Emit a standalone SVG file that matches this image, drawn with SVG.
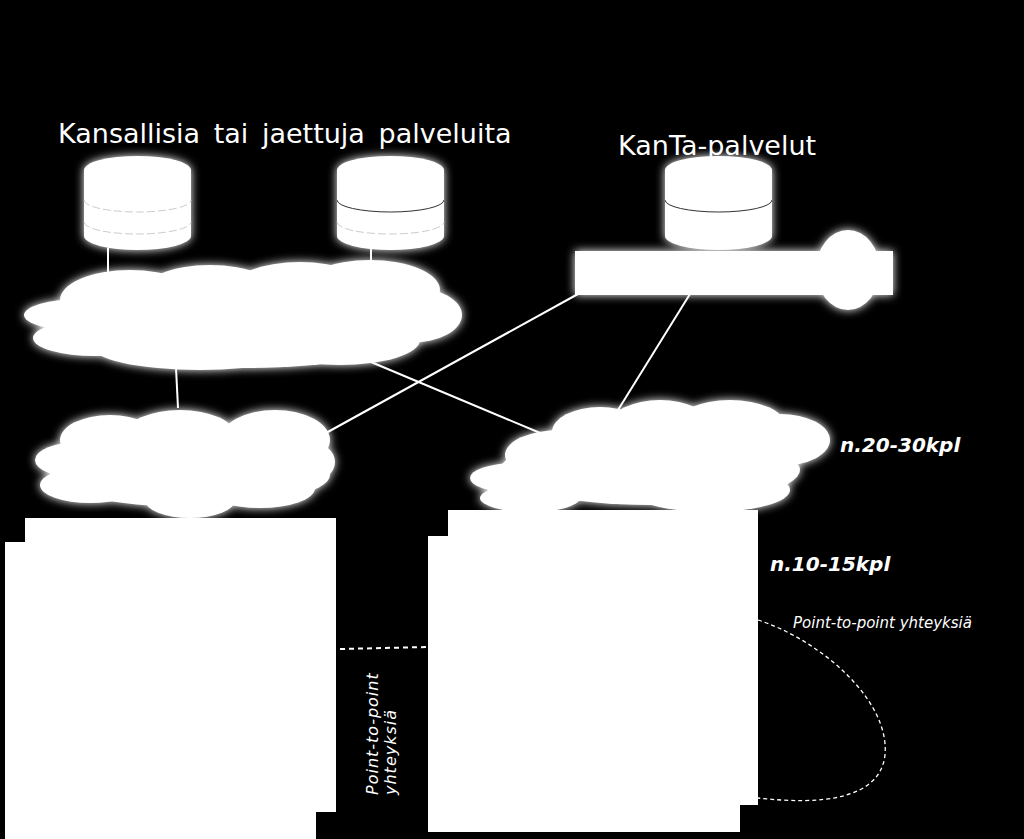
<svg xmlns="http://www.w3.org/2000/svg" width="1024" height="839" viewBox="0 0 1024 839">
<defs>
<filter id="glow" x="-20%" y="-20%" width="140%" height="140%"><feFlood flood-color="#fff"/><feComposite operator="in" in2="SourceAlpha"/><feGaussianBlur stdDeviation="5" result="g"/><feMerge><feMergeNode in="g"/><feMergeNode in="SourceGraphic"/></feMerge></filter>
<style>
.w{fill:#fff}
.ln{stroke:#fff;stroke-width:2;fill:none}
.ds{stroke:#fff;stroke-width:2;fill:none;stroke-dasharray:5 4}
.ds2{stroke:#fff;stroke-width:1.3;fill:none;stroke-dasharray:4 3}
.t{font-family:"DejaVu Sans",sans-serif;fill:#fff}
.b{font-family:"DejaVu Sans",sans-serif;font-weight:bold;font-style:italic;fill:#fff;font-size:20px}
.cl{stroke:#ccc;stroke-width:1;fill:none;stroke-dasharray:8 3}
</style>
</defs>
<rect width="1024" height="839" fill="#000"/>
<g id="connectors">
<line class="ln" x1="108" y1="248" x2="108" y2="278"/>
<line class="ln" x1="371" y1="248" x2="371" y2="268"/>
<line class="ln" x1="176" y1="368" x2="178" y2="408"/>
<line class="ln" x1="371" y1="362" x2="545" y2="435"/>
<line class="ln" x1="578" y1="294" x2="326" y2="433"/>
<line class="ln" x1="690" y1="294" x2="618" y2="410"/>
<path class="ds" d="M340,649 L428,647"/>
<path class="ds2" d="M758,620 C820,640 890,700 885,755 C880,800 820,805 758,798"/>
</g>
<g id="db1" filter="url(#glow)"><path class="w" d="M84,170 A53.5,14 0 0 1 191,170 V236 A53.5,14 0 0 1 84,236 Z"/><path class="cl" d="M84,200 A53.5,12 0 0 0 191,200 M84,222 A53.5,12 0 0 0 191,222"/></g>
<g id="db2" filter="url(#glow)"><path class="w" d="M337,170 A53.5,14 0 0 1 444,170 V236 A53.5,14 0 0 1 337,236 Z"/><path d="M337,200 A53.5,12 0 0 0 444,200" stroke="#333" fill="none"/><path class="cl" d="M337,222 A53.5,12 0 0 0 444,222"/></g>
<g id="db3" filter="url(#glow)"><path class="w" d="M665,170 A53.5,14 0 0 1 772,170 V236 A53.5,14 0 0 1 665,236 Z"/><path d="M665,200 A53.5,12 0 0 0 772,200" stroke="#333" fill="none"/></g>
<g id="kanta-bar" filter="url(#glow)"><rect class="w" x="575" y="251" width="318" height="44"/><ellipse class="w" cx="848" cy="270" rx="32" ry="40"/></g>
<g id="cloud-top" filter="url(#glow)" class="w">
<ellipse cx="130" cy="300" rx="70" ry="30"/><ellipse cx="80" cy="315" rx="56" ry="16"/><ellipse cx="95" cy="338" rx="62" ry="18"/>
<ellipse cx="210" cy="295" rx="70" ry="30"/><ellipse cx="300" cy="290" rx="70" ry="28"/><ellipse cx="370" cy="290" rx="70" ry="30"/>
<ellipse cx="410" cy="315" rx="52" ry="28"/><ellipse cx="250" cy="335" rx="150" ry="33"/><ellipse cx="200" cy="345" rx="110" ry="25"/><ellipse cx="340" cy="340" rx="80" ry="25"/>
</g>
<g id="cloud-mid" filter="url(#glow)" class="w">
<ellipse cx="110" cy="440" rx="50" ry="25"/><ellipse cx="180" cy="435" rx="55" ry="25"/><ellipse cx="275" cy="440" rx="55" ry="30"/>
<ellipse cx="80" cy="460" rx="45" ry="18"/><ellipse cx="90" cy="485" rx="50" ry="18"/><ellipse cx="190" cy="475" rx="140" ry="32"/>
<ellipse cx="190" cy="500" rx="45" ry="18"/><ellipse cx="260" cy="488" rx="55" ry="20"/><ellipse cx="310" cy="462" rx="25" ry="20"/>
</g>
<g id="cloud-right" filter="url(#glow)" class="w">
<ellipse cx="600" cy="432" rx="48" ry="25"/><ellipse cx="660" cy="425" rx="50" ry="25"/><ellipse cx="730" cy="425" rx="55" ry="25"/>
<ellipse cx="780" cy="440" rx="50" ry="26"/><ellipse cx="560" cy="455" rx="55" ry="25"/><ellipse cx="515" cy="478" rx="45" ry="15"/>
<ellipse cx="650" cy="470" rx="150" ry="35"/><ellipse cx="710" cy="490" rx="80" ry="22"/><ellipse cx="530" cy="498" rx="50" ry="14"/>
</g>
<g id="site-left" class="w"><rect x="25" y="518" width="311" height="294"/><rect x="5" y="542" width="311" height="297"/></g>
<g id="site-right" class="w"><rect x="448" y="510" width="310" height="295"/><rect x="428" y="536" width="312" height="296"/></g>
<g id="labels">
<text class="t" x="58" y="143" font-size="27" word-spacing="5">Kansallisia tai jaettuja palveluita</text>
<text class="t" x="618" y="155" font-size="27">KanTa-palvelut</text>
<text class="b" x="840" y="452">n.20-30kpl</text>
<text class="b" x="770" y="571">n.10-15kpl</text>
<text class="t" x="793" y="628" font-size="15" font-style="italic">Point-to-point yhteyksiä</text>
<text class="t" font-size="16" font-style="italic" letter-spacing="1" transform="translate(378,795) rotate(-90)">Point-to-point<tspan x="0" dy="18">yhteyksiä</tspan></text>
</g>
</svg>
